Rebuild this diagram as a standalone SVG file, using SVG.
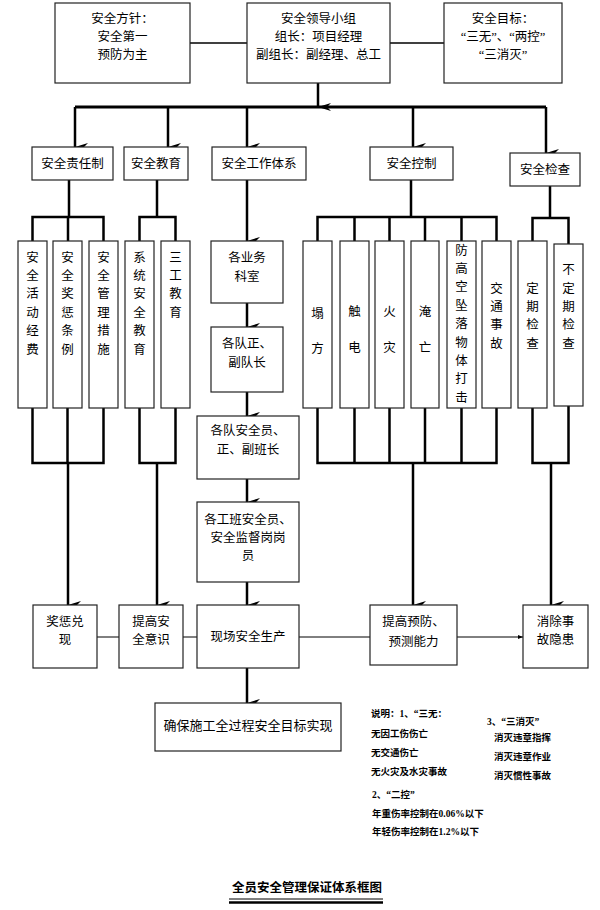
<svg xmlns="http://www.w3.org/2000/svg" width="600" height="910" viewBox="0 0 600 910">
<style>
.bx{fill:#fff;stroke:#222;stroke-width:1.2}
.t{font-family:"Liberation Serif","Noto Sans CJK SC",serif;font-size:12.5px;fill:#000;text-anchor:middle}
.v{font-family:"Liberation Serif","Noto Sans CJK SC",serif;font-size:12.5px;fill:#000;text-anchor:middle}
.n{font-family:"Liberation Serif","Noto Sans CJK SC",serif;font-size:9.5px;font-weight:bold;fill:#000}
.th{fill:none;stroke:#000;stroke-width:2.5}
.tn{fill:none;stroke:#000;stroke-width:1.5}
.hl{fill:none;stroke:#000;stroke-width:1}
</style>
<defs>
<marker id="ar" markerUnits="userSpaceOnUse" markerWidth="8" markerHeight="13" refX="4" refY="13" orient="auto-start-reverse" viewBox="0 0 8 13">
<path d="M0,0 L4,13 L8,0 L4,4 z" fill="#000"/>
</marker>
<marker id="sa" markerUnits="userSpaceOnUse" markerWidth="5" markerHeight="4" refX="5" refY="2" orient="auto" viewBox="0 0 5 4">
<path d="M0,0 L5,2 L0,4 z" fill="#000"/>
</marker>
</defs>

<g id="connectors">
<line class="tn" x1="190" y1="43" x2="247" y2="43"/>
<line class="tn" x1="390" y1="43" x2="444" y2="43"/>
<line class="th" x1="318" y1="83" x2="318" y2="107" marker-end="url(#ar)"/>
<line class="th" x1="75" y1="107" x2="546" y2="107" style="stroke-width:3"/>
<line class="th" x1="75" y1="107" x2="75" y2="147" marker-end="url(#ar)"/>
<line class="th" x1="168" y1="107" x2="168" y2="147" marker-end="url(#ar)"/>
<line class="th" x1="247" y1="107" x2="247" y2="147" marker-end="url(#ar)"/>
<line class="th" x1="413" y1="107" x2="413" y2="147" marker-end="url(#ar)"/>
<line class="th" x1="546" y1="107" x2="546" y2="153" marker-end="url(#ar)"/>

<path class="th" d="M69,180 V217 M32.5,241 V217 H103.5 V241 M68,217 V241"/>
<path class="th" d="M157,180 V217 M139.5,241 V217 H175.5 V241"/>
<line class="th" x1="247" y1="180" x2="247" y2="241" marker-end="url(#ar)"/>
<path class="th" d="M411,180 V217 M317.5,241 V217 H496.5 V241 M354.5,217 V241 M389.5,217 V241 M425,217 V241 M461.5,217 V241"/>
<path class="th" d="M550,186 V218 M532.5,241 V218 H568.5 V244"/>

<path class="th" d="M32.5,408 V463 H103.5 V408 M67.5,408 V463"/>
<line class="th" x1="68" y1="463" x2="68" y2="605" marker-end="url(#ar)"/>
<path class="th" d="M139.5,408 V463 H175.5 V408"/>
<line class="th" x1="157" y1="463" x2="157" y2="605" marker-end="url(#ar)"/>
<path class="th" d="M317.5,408 V463 H496.5 V408 M354.5,408 V463 M389.5,408 V463 M425,408 V463 M461.5,408 V463"/>
<line class="th" x1="413" y1="463" x2="413" y2="605" marker-end="url(#ar)"/>
<path class="th" d="M532.5,408 V463 H568.5 V406"/>
<line class="th" x1="551" y1="463" x2="551" y2="605" marker-end="url(#ar)"/>

<line class="th" x1="247" y1="303" x2="247" y2="327" marker-end="url(#ar)"/>
<line class="th" x1="247" y1="392" x2="247" y2="416" marker-end="url(#ar)"/>
<line class="th" x1="247" y1="479" x2="247" y2="502" marker-end="url(#ar)"/>
<line class="th" x1="247" y1="582" x2="247" y2="605" marker-end="url(#ar)"/>
<line class="th" x1="247" y1="668" x2="247" y2="703" marker-end="url(#ar)"/>

<line class="hl" x1="97" y1="637" x2="119" y2="637"/>
<line class="hl" x1="183" y1="637" x2="197" y2="637"/>
<line class="hl" x1="299" y1="637" x2="370" y2="637"/>
<line class="hl" x1="457" y1="637" x2="523" y2="637" marker-end="url(#sa)"/>
</g>

<g id="n-policy"><rect class="bx" x="55" y="3" width="135" height="80"/>
<text class="t" x="122.5" y="22.5">安全方针：</text><text class="t" x="122.5" y="41">安全第一</text><text class="t" x="122.5" y="59">预防为主</text></g>
<g id="n-leader"><rect class="bx" x="247" y="3" width="143" height="80"/>
<text class="t" x="318.5" y="22.5">安全领导小组</text><text class="t" x="318.5" y="41">组长：项目经理</text><text class="t" x="318.5" y="59">副组长：副经理、总工</text></g>
<g id="n-goal"><rect class="bx" x="444" y="3" width="118" height="80"/>
<text class="t" x="503" y="22.5">安全目标：</text><text class="t" x="503" y="41">“三无”、“两控”</text><text class="t" x="503" y="59">“三消灭”</text></g>

<g id="n-resp"><rect class="bx" x="32" y="147" width="81" height="33"/><text class="t" x="72.5" y="168">安全责任制</text></g>
<g id="n-edu"><rect class="bx" x="124" y="147" width="64" height="33"/><text class="t" x="156" y="168">安全教育</text></g>
<g id="n-work"><rect class="bx" x="212" y="147" width="94" height="33"/><text class="t" x="259" y="168">安全工作体系</text></g>
<g id="n-ctrl"><rect class="bx" x="370" y="147" width="83" height="33"/><text class="t" x="411.5" y="168">安全控制</text></g>
<g id="n-check"><rect class="bx" x="510" y="153" width="70" height="33"/><text class="t" x="545" y="174">安全检查</text></g>

<g id="n-fund"><rect class="bx" x="18" y="241" width="29" height="167"/>
<text class="v"><tspan x="32.5" y="261.5">安</tspan><tspan x="32.5" y="279.9">全</tspan><tspan x="32.5" y="298.3">活</tspan><tspan x="32.5" y="316.7">动</tspan><tspan x="32.5" y="335.1">经</tspan><tspan x="32.5" y="353.5">费</tspan></text></g>
<g id="n-reward"><rect class="bx" x="53" y="241" width="29" height="167"/>
<text class="v"><tspan x="67.5" y="261.5">安</tspan><tspan x="67.5" y="279.9">全</tspan><tspan x="67.5" y="298.3">奖</tspan><tspan x="67.5" y="316.7">惩</tspan><tspan x="67.5" y="335.1">条</tspan><tspan x="67.5" y="353.5">例</tspan></text></g>
<g id="n-measure"><rect class="bx" x="89" y="241" width="29" height="167"/>
<text class="v"><tspan x="103.5" y="261.5">安</tspan><tspan x="103.5" y="279.9">全</tspan><tspan x="103.5" y="298.3">管</tspan><tspan x="103.5" y="316.7">理</tspan><tspan x="103.5" y="335.1">措</tspan><tspan x="103.5" y="353.5">施</tspan></text></g>
<g id="n-sysedu"><rect class="bx" x="125" y="241" width="29" height="167"/>
<text class="v"><tspan x="139.5" y="261.5">系</tspan><tspan x="139.5" y="279.9">统</tspan><tspan x="139.5" y="298.3">安</tspan><tspan x="139.5" y="316.7">全</tspan><tspan x="139.5" y="335.1">教</tspan><tspan x="139.5" y="353.5">育</tspan></text></g>
<g id="n-3edu"><rect class="bx" x="161" y="241" width="29" height="167"/>
<text class="v"><tspan x="175.5" y="261.5">三</tspan><tspan x="175.5" y="279.9">工</tspan><tspan x="175.5" y="298.3">教</tspan><tspan x="175.5" y="316.7">育</tspan></text></g>

<g id="n-dept"><rect class="bx" x="211" y="241" width="72" height="62"/>
<text class="t" x="247" y="262">各业务</text><text class="t" x="247" y="281">科室</text></g>
<g id="n-captain"><rect class="bx" x="211" y="327" width="72" height="65"/>
<text class="t" x="247" y="348">各队正、</text><text class="t" x="247" y="367">副队长</text></g>
<g id="n-officer"><rect class="bx" x="197" y="416" width="102" height="63"/>
<text class="t" x="248" y="435">各队安全员、</text><text class="t" x="248" y="454">正、副班长</text></g>
<g id="n-team"><rect class="bx" x="197" y="502" width="102" height="80"/>
<text class="t" x="248" y="524">各工班安全员、</text><text class="t" x="248" y="542">安全监督岗岗</text><text class="t" x="248" y="560">员</text></g>

<g id="n-collapse"><rect class="bx" x="303" y="241" width="29" height="167"/>
<text class="v"><tspan x="317.5" y="318">塌</tspan><tspan x="317.5" y="353">方</tspan></text></g>
<g id="n-shock"><rect class="bx" x="340" y="241" width="29" height="167"/>
<text class="v"><tspan x="354.5" y="316">触</tspan><tspan x="354.5" y="352">电</tspan></text></g>
<g id="n-fire"><rect class="bx" x="375" y="241" width="29" height="167"/>
<text class="v"><tspan x="389.5" y="316">火</tspan><tspan x="389.5" y="352">灾</tspan></text></g>
<g id="n-drown"><rect class="bx" x="411" y="241" width="28" height="167"/>
<text class="v"><tspan x="425" y="316">淹</tspan><tspan x="425" y="352">亡</tspan></text></g>
<g id="n-fall"><rect class="bx" x="447" y="241" width="29" height="167"/>
<text class="v"><tspan x="461.5" y="254.5">防</tspan><tspan x="461.5" y="272.9">高</tspan><tspan x="461.5" y="291.3">空</tspan><tspan x="461.5" y="309.7">坠</tspan><tspan x="461.5" y="328.1">落</tspan><tspan x="461.5" y="346.5">物</tspan><tspan x="461.5" y="364.9">体</tspan><tspan x="461.5" y="383.3">打</tspan><tspan x="461.5" y="401.7">击</tspan></text></g>
<g id="n-traffic"><rect class="bx" x="482" y="241" width="29" height="167"/>
<text class="v"><tspan x="496.5" y="292.5">交</tspan><tspan x="496.5" y="310.9">通</tspan><tspan x="496.5" y="329.3">事</tspan><tspan x="496.5" y="347.7">故</tspan></text></g>
<g id="n-regular"><rect class="bx" x="518" y="241" width="29" height="167"/>
<text class="v"><tspan x="532.5" y="292.5">定</tspan><tspan x="532.5" y="310.9">期</tspan><tspan x="532.5" y="329.3">检</tspan><tspan x="532.5" y="347.7">查</tspan></text></g>
<g id="n-irregular"><rect class="bx" x="554" y="244" width="29" height="162"/>
<text class="v"><tspan x="568.5" y="274">不</tspan><tspan x="568.5" y="292.5">定</tspan><tspan x="568.5" y="310.9">期</tspan><tspan x="568.5" y="329.3">检</tspan><tspan x="568.5" y="347.7">查</tspan></text></g>

<g id="n-award"><rect class="bx" x="33" y="605" width="64" height="63"/>
<text class="t" x="65" y="626">奖惩兑</text><text class="t" x="65" y="644">现</text></g>
<g id="n-aware"><rect class="bx" x="119" y="605" width="64" height="63"/>
<text class="t" x="151" y="626">提高安</text><text class="t" x="151" y="644">全意识</text></g>
<g id="n-site"><rect class="bx" x="197" y="605" width="102" height="63"/>
<text class="t" x="248" y="641">现场安全生产</text></g>
<g id="n-predict"><rect class="bx" x="370" y="605" width="87" height="60"/>
<text class="t" x="413.5" y="626">提高预防、</text><text class="t" x="413.5" y="646">预测能力</text></g>
<g id="n-hazard"><rect class="bx" x="523" y="605" width="65" height="63"/>
<text class="t" x="555.5" y="626">消除事</text><text class="t" x="555.5" y="644">故隐患</text></g>

<g id="n-ensure"><rect class="bx" x="155" y="703" width="186" height="48"/>
<text class="t" x="248" y="730" style="font-size:13px">确保施工全过程安全目标实现</text></g>

<g id="notes">
<text class="n" x="371" y="717">说明：1、“三无：</text>
<text class="n" x="371" y="737">无因工伤伤亡</text>
<text class="n" x="371" y="756">无交通伤亡</text>
<text class="n" x="371" y="775">无火灾及水灾事故</text>
<text class="n" x="372" y="798">2、“二控”</text>
<text class="n" x="372" y="817">年重伤率控制在0.06%以下</text>
<text class="n" x="372" y="835">年轻伤率控制在1.2%以下</text>
<text class="n" x="487" y="725">3、“三消灭”</text>
<text class="n" x="494" y="741">消灭违章指挥</text>
<text class="n" x="494" y="760">消灭违章作业</text>
<text class="n" x="494" y="779">消灭惯性事故</text>
</g>

<g id="title">
<text class="t" x="307" y="892" style="font-weight:bold">全员安全管理保证体系框图</text>
<line x1="229" y1="899" x2="383" y2="899" stroke="#000" stroke-width="1"/>
<line x1="229" y1="902.5" x2="383" y2="902.5" stroke="#000" stroke-width="2.5"/>
</g>
</svg>
